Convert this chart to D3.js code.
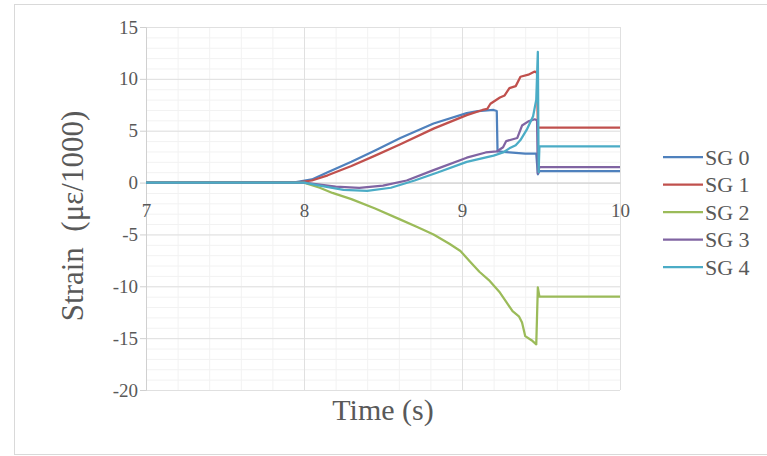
<!DOCTYPE html>
<html>
<head>
<meta charset="utf-8">
<script src="https://cdn.jsdelivr.net/npm/d3@7.9.0/dist/d3.min.js"></script>
<style>
  html, body { margin: 0; padding: 0; background: #fff; }
  svg { display: block; font-family: "Liberation Serif", "Times New Roman", serif; }
</style>
</head>
<body>
<div id="chart"></div>
<script>
// series values, [time (s), strain (µε/1000)]
const sg0 = [[7, 0], [7.95, 0.05], [8.05, 0.3], [8.15, 1.0], [8.3, 2.0], [8.45, 3.1], [8.61, 4.3],
  [8.82, 5.7], [9.03, 6.7], [9.1, 6.9], [9.2, 7.0], [9.22, 6.9], [9.225, 3.0], [9.3, 2.9],
  [9.4, 2.8], [9.47, 2.8], [9.48, 0.8], [9.49, 1.1], [10, 1.1]];
const sg1 = [[7, 0], [7.95, 0], [8.05, 0.2], [8.15, 0.7], [8.3, 1.6], [8.45, 2.6], [8.61, 3.7],
  [8.82, 5.2], [9.03, 6.5], [9.13, 7.0], [9.16, 7.1], [9.18, 7.6], [9.24, 8.2], [9.27, 8.4],
  [9.3, 9.1], [9.34, 9.3], [9.37, 10.2], [9.42, 10.4], [9.46, 10.7], [9.475, 10.6],
  [9.48, 5.3], [10, 5.3]];
const sg2 = [[7, 0], [8.0, 0], [8.1, -0.5], [8.18, -1.0], [8.3, -1.6], [8.45, -2.5], [8.6, -3.5],
  [8.72, -4.3], [8.82, -5.0], [8.92, -5.9], [8.99, -6.6], [9.05, -7.6], [9.11, -8.6],
  [9.17, -9.4], [9.24, -10.6], [9.28, -11.5], [9.32, -12.4], [9.36, -12.9], [9.38, -13.5],
  [9.4, -14.8], [9.44, -15.2], [9.47, -15.6], [9.48, -10.1], [9.49, -11.0], [10, -11.0]];
const sg3 = [[7, 0], [8.0, 0], [8.1, -0.2], [8.2, -0.4], [8.35, -0.5], [8.5, -0.3], [8.65, 0.2],
  [8.82, 1.2], [9.03, 2.4], [9.15, 2.9], [9.22, 3.0], [9.26, 3.4], [9.28, 4.0], [9.35, 4.3],
  [9.38, 5.5], [9.42, 5.9], [9.46, 6.1], [9.475, 6.0], [9.48, 0.9], [9.49, 1.5], [10, 1.5]];
const sg4 = [[7, 0], [8.0, 0], [8.1, -0.3], [8.25, -0.7], [8.4, -0.8], [8.55, -0.5], [8.7, 0.2],
  [8.85, 1.0], [9.03, 2.0], [9.2, 2.6], [9.26, 2.9], [9.3, 3.3], [9.34, 3.6], [9.37, 4.1],
  [9.41, 5.1], [9.45, 6.4], [9.47, 8.0], [9.48, 12.6], [9.485, 1.0], [9.49, 3.5], [10, 3.5]];

const seriesNames = ["SG 0", "SG 1", "SG 2", "SG 3", "SG 4"];
const seriesColors = ["#4f81bd", "#c0504d", "#9bbb59", "#8064a2", "#4bacc6"];
const xTicks = [7, 8, 9, 10];
const yTicks = [-20, -15, -10, -5, 0, 5, 10, 15];

const series = [sg0, sg1, sg2, sg3, sg4].map((values, i) => ({
  name: seriesNames[i],
  color: seriesColors[i],
  values,
}));

const width = 767;
const height = 456;
const plot = { left: 146, right: 620, top: 27, bottom: 390 };
const tickFormat = (d) => String(d); // plain hyphen minus, no decimals

const svg = d3.select("#chart")
  .append("svg")
  .attr("width", width)
  .attr("height", height);

// outer chart border
svg.append("rect")
  .attr("x", 14.5)
  .attr("y", 4.5)
  .attr("width", 800)
  .attr("height", 450)
  .attr("fill", "none")
  .attr("stroke", "#d9d9d9");

const xScale = d3.scaleLinear().domain([7, 10]).range([plot.left, plot.right]);
const yScale = d3.scaleLinear().domain([-20, 15]).range([plot.bottom, plot.top]);

// minor gridlines
svg.append("g")
  .attr("transform", `translate(${plot.left},0)`)
  .call(d3.axisLeft(yScale).tickValues(d3.range(-20, 16, 1)).tickFormat("")
    .tickSize(-(plot.right - plot.left)))
  .call((g) => g.select(".domain").remove())
  .call((g) => g.selectAll("line").attr("stroke", "#f2f2f2"));

svg.append("g")
  .attr("transform", `translate(0,${plot.bottom})`)
  .call(d3.axisBottom(xScale).tickValues(d3.range(0, 16).map((i) => 7 + i * 0.2)).tickFormat("")
    .tickSize(-(plot.bottom - plot.top)))
  .call((g) => g.select(".domain").remove())
  .call((g) => g.selectAll("line").attr("stroke", "#f2f2f2"));

// major gridlines
svg.append("g")
  .attr("transform", `translate(${plot.left},0)`)
  .call(d3.axisLeft(yScale).tickValues(yTicks).tickFormat("")
    .tickSize(-(plot.right - plot.left)))
  .call((g) => g.select(".domain").remove())
  .call((g) => g.selectAll("line").attr("stroke", "#e0e0e0"));

svg.append("g")
  .attr("transform", `translate(0,${plot.bottom})`)
  .call(d3.axisBottom(xScale).tickValues(xTicks).tickFormat("")
    .tickSize(-(plot.bottom - plot.top)))
  .call((g) => g.select(".domain").remove())
  .call((g) => g.selectAll("line").attr("stroke", "#e0e0e0"));

// y axis
svg.append("g")
  .attr("transform", `translate(${plot.left},0)`)
  .call(d3.axisLeft(yScale).tickValues(yTicks).tickFormat(tickFormat).tickSize(6).tickPadding(2))
  .call((g) => g.select(".domain").attr("stroke", "#d0d0d0"))
  .call((g) => g.selectAll("line").attr("stroke", "#d0d0d0"))
  .call((g) => g.selectAll("text")
    .attr("fill", "#595959")
    .style("font-size", "19px")
    .style("font-family", "Liberation Serif, serif"));

// x axis crossing at 0
svg.append("g")
  .attr("transform", `translate(0,${yScale(0)})`)
  .call(d3.axisBottom(xScale).tickValues(xTicks).tickFormat(tickFormat).tickSize(0).tickPadding(21))
  .call((g) => g.select(".domain").attr("stroke", "#d0d0d0"))
  .call((g) => g.selectAll("text")
    .attr("fill", "#595959")
    .style("font-size", "19px")
    .style("font-family", "Liberation Serif, serif"));

const line = d3.line()
  .x((d) => xScale(d[0]))
  .y((d) => yScale(d[1]));

svg.append("g")
  .selectAll("path")
  .data(series)
  .join("path")
  .attr("d", (d) => line(d.values))
  .attr("fill", "none")
  .attr("stroke", (d) => d.color)
  .attr("stroke-width", 2.25)
  .attr("stroke-linejoin", "round");

// axis titles
svg.append("text")
  .attr("x", 383)
  .attr("y", 420)
  .attr("text-anchor", "middle")
  .attr("fill", "#595959")
  .style("font-size", "30px")
  .text("Time (s)");

svg.append("text")
  .attr("transform", "translate(83,216) rotate(-90)")
  .attr("text-anchor", "middle")
  .attr("fill", "#595959")
  .attr("xml:space", "preserve")
  .style("white-space", "pre")
  .style("font-size", "31px")
  .text("Strain  (\u03bc\u03b5/1000)");

// legend
const legend = svg.append("g")
  .selectAll("g")
  .data(series)
  .join("g")
  .attr("transform", (d, i) => `translate(663,${157 + i * 27.5})`);

legend.append("line")
  .attr("x1", 0)
  .attr("x2", 40)
  .attr("stroke", (d) => d.color)
  .attr("stroke-width", 2.25);

legend.append("text")
  .attr("x", 42)
  .attr("dy", "0.35em")
  .attr("fill", "#595959")
  .style("font-size", "22px")
  .text((d) => d.name);
</script>
</body>
</html>
